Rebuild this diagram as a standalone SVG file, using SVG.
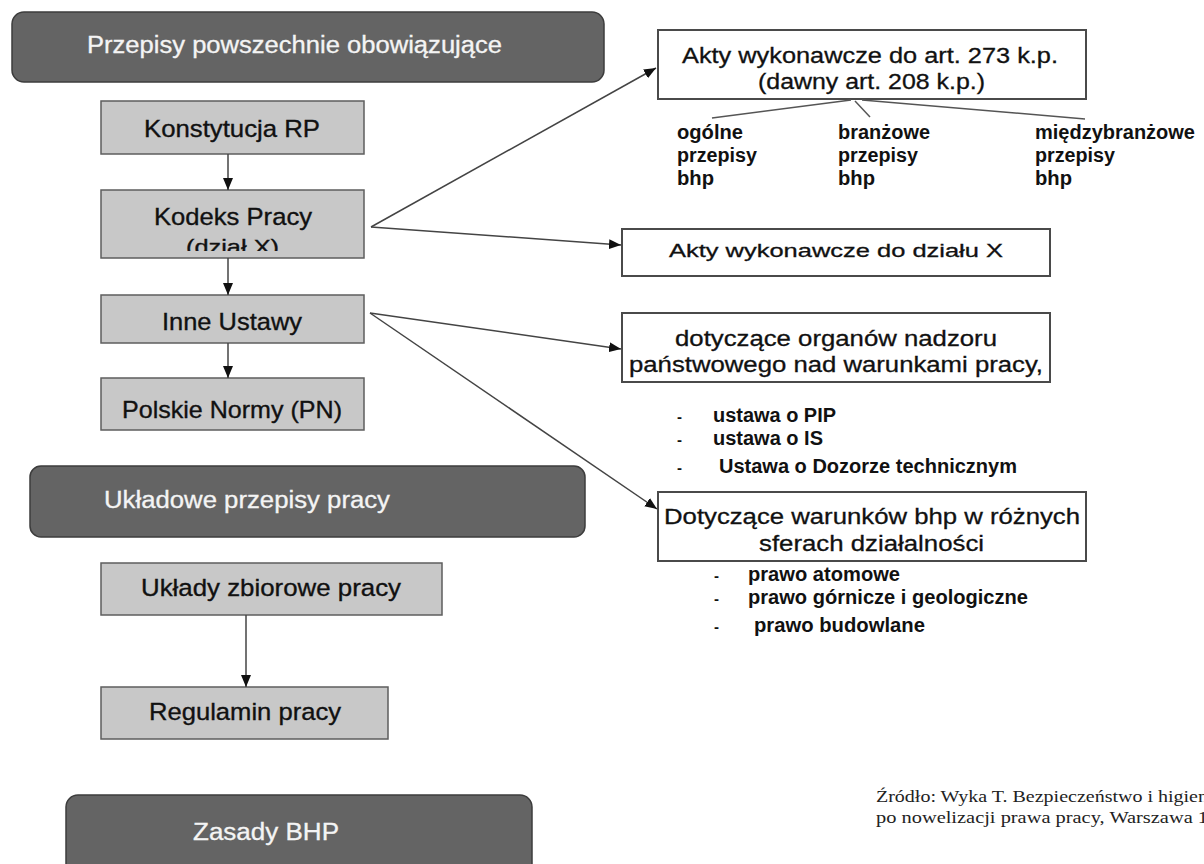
<svg xmlns="http://www.w3.org/2000/svg" width="1204" height="864" viewBox="0 0 1204 864">
<style>
.dark{fill:#646464;stroke:#3c3c3c;stroke-width:1.5}
.light{fill:#c8c8c8;stroke:#5e5e5e;stroke-width:1.5}
.white{fill:#ffffff;stroke:#4a4a4a;stroke-width:2}
.t{font-family:"Liberation Sans",Arial,sans-serif;font-size:24.5px;fill:#111;stroke:#111;stroke-width:0.35}
.tw{font-family:"Liberation Sans",Arial,sans-serif;font-size:23px;fill:#f4f4f4;stroke:#f4f4f4;stroke-width:0.3}
.tr{font-family:"Liberation Sans",Arial,sans-serif;font-size:22px;fill:#111;stroke:#111;stroke-width:0.3}
.tb{font-family:"Liberation Sans",Arial,sans-serif;font-size:19.5px;font-weight:bold;fill:#111}
.src{font-family:"Liberation Serif","Times New Roman",serif;font-size:16px;fill:#222}
.c{stroke:#444;stroke-width:1.5;fill:none}
.f{stroke:#555;stroke-width:1.5;fill:none}
</style>
<defs>
<marker id="ah" viewBox="0 0 12 10" refX="12" refY="5" markerWidth="12" markerHeight="10" markerUnits="userSpaceOnUse" orient="auto">
<path d="M0,0 L12,5 L0,10 z" fill="#111"/>
</marker>
<clipPath id="kclip"><rect x="100" y="190" width="265" height="61"/></clipPath>
</defs>
<rect width="1204" height="864" fill="#ffffff"/>

<g id="n-przepisy">
<rect class="dark" x="12" y="12" width="592" height="70" rx="12"/>
<text class="tw" x="87" y="53" textLength="415" lengthAdjust="spacingAndGlyphs">Przepisy powszechnie obowiązujące</text>
</g>
<g id="n-konstytucja">
<rect class="light" x="101" y="101" width="263" height="53"/>
<text class="t" x="144" y="137" textLength="176" lengthAdjust="spacingAndGlyphs">Konstytucja RP</text>
</g>
<g id="n-kodeks">
<rect class="light" x="101" y="190" width="263" height="68"/>
<text class="t" x="154" y="225" textLength="158" lengthAdjust="spacingAndGlyphs">Kodeks Pracy</text>
<text class="t" x="186" y="254" textLength="93" lengthAdjust="spacingAndGlyphs" clip-path="url(#kclip)" style="font-size:21px">(dział X)</text>
</g>
<g id="n-inne">
<rect class="light" x="101" y="295" width="263" height="48"/>
<text class="t" x="162" y="330" textLength="140" lengthAdjust="spacingAndGlyphs">Inne Ustawy</text>
</g>
<g id="n-pn">
<rect class="light" x="101" y="378" width="263" height="52"/>
<text class="t" x="122" y="418" textLength="220" lengthAdjust="spacingAndGlyphs">Polskie Normy (PN)</text>
</g>
<g id="n-ukladowe">
<rect class="dark" x="30" y="466" width="555" height="71" rx="11"/>
<text class="tw" x="104" y="508" textLength="286" lengthAdjust="spacingAndGlyphs">Układowe przepisy pracy</text>
</g>
<g id="n-uklady">
<rect class="light" x="101" y="563" width="341" height="52"/>
<text class="t" x="141" y="596" textLength="260" lengthAdjust="spacingAndGlyphs">Układy zbiorowe pracy</text>
</g>
<g id="n-regulamin">
<rect class="light" x="101" y="687" width="287" height="52"/>
<text class="t" x="149" y="720" textLength="192" lengthAdjust="spacingAndGlyphs">Regulamin pracy</text>
</g>
<g id="n-zasady">
<rect class="dark" x="66" y="795" width="466" height="85" rx="12"/>
<text class="tw" x="193" y="840" textLength="146" lengthAdjust="spacingAndGlyphs">Zasady BHP</text>
</g>

<g id="n-akty273">
<rect class="white" x="658" y="30" width="428" height="69"/>
<text class="tr" x="682" y="63" textLength="376" lengthAdjust="spacingAndGlyphs">Akty wykonawcze do art. 273 k.p.</text>
<text class="tr" x="758" y="89" textLength="227" lengthAdjust="spacingAndGlyphs">(dawny art. 208 k.p.)</text>
</g>
<g id="n-rodzaje">
<text class="tb" x="677" y="139" textLength="66" lengthAdjust="spacingAndGlyphs">ogólne</text>
<text class="tb" x="677" y="162" textLength="80" lengthAdjust="spacingAndGlyphs">przepisy</text>
<text class="tb" x="677" y="185" textLength="37" lengthAdjust="spacingAndGlyphs">bhp</text>
<text class="tb" x="838" y="139" textLength="92" lengthAdjust="spacingAndGlyphs">branżowe</text>
<text class="tb" x="838" y="162" textLength="80" lengthAdjust="spacingAndGlyphs">przepisy</text>
<text class="tb" x="838" y="185" textLength="37" lengthAdjust="spacingAndGlyphs">bhp</text>
<text class="tb" x="1035" y="139" textLength="160" lengthAdjust="spacingAndGlyphs">międzybranżowe</text>
<text class="tb" x="1035" y="162" textLength="80" lengthAdjust="spacingAndGlyphs">przepisy</text>
<text class="tb" x="1035" y="185" textLength="37" lengthAdjust="spacingAndGlyphs">bhp</text>
</g>
<g id="n-aktyX">
<rect class="white" x="622" y="229" width="428" height="47"/>
<text class="tr" x="669" y="257" textLength="334" lengthAdjust="spacingAndGlyphs" style="font-size:19px">Akty wykonawcze do działu X</text>
</g>
<g id="n-organy">
<rect class="white" x="622" y="313" width="428" height="69"/>
<text class="tr" x="675" y="346" textLength="322" lengthAdjust="spacingAndGlyphs">dotyczące organów nadzoru</text>
<text class="tr" x="629" y="372" textLength="414" lengthAdjust="spacingAndGlyphs">państwowego nad warunkami pracy,</text>
</g>
<g id="n-ustawy">
<text class="tb" x="677" y="422" style="font-size:15px">-</text>
<text class="tb" x="713" y="422" textLength="123" lengthAdjust="spacingAndGlyphs">ustawa o PIP</text>
<text class="tb" x="677" y="445" style="font-size:15px">-</text>
<text class="tb" x="713" y="445" textLength="110" lengthAdjust="spacingAndGlyphs">ustawa o IS</text>
<text class="tb" x="677" y="473" style="font-size:15px">-</text>
<text class="tb" x="719" y="473" textLength="298" lengthAdjust="spacingAndGlyphs">Ustawa o Dozorze technicznym</text>
</g>
<g id="n-warunki">
<rect class="white" x="658" y="492" width="428" height="69"/>
<text class="tr" x="664" y="524" textLength="416" lengthAdjust="spacingAndGlyphs">Dotyczące warunków bhp w różnych</text>
<text class="tr" x="759" y="551" textLength="225" lengthAdjust="spacingAndGlyphs">sferach działalności</text>
</g>
<g id="n-prawa">
<text class="tb" x="714" y="581" style="font-size:15px">-</text>
<text class="tb" x="748" y="581" textLength="152" lengthAdjust="spacingAndGlyphs">prawo atomowe</text>
<text class="tb" x="714" y="604" style="font-size:15px">-</text>
<text class="tb" x="748" y="604" textLength="280" lengthAdjust="spacingAndGlyphs">prawo górnicze i geologiczne</text>
<text class="tb" x="714" y="632" style="font-size:15px">-</text>
<text class="tb" x="754" y="632" textLength="171" lengthAdjust="spacingAndGlyphs">prawo budowlane</text>
</g>
<g id="n-zrodlo">
<text class="src" x="876" y="802" textLength="332" lengthAdjust="spacingAndGlyphs">Źródło: Wyka T. Bezpieczeństwo i higien</text>
<text class="src" x="876" y="823" textLength="332" lengthAdjust="spacingAndGlyphs">po nowelizacji prawa pracy, Warszawa 1</text>
</g>

<g id="connectors">
<line class="c" x1="228" y1="154" x2="228" y2="190" marker-end="url(#ah)"/>
<line class="c" x1="228" y1="258" x2="228" y2="295" marker-end="url(#ah)"/>
<line class="c" x1="228" y1="343" x2="228" y2="378" marker-end="url(#ah)"/>
<line class="c" x1="246" y1="615" x2="246" y2="687" marker-end="url(#ah)"/>
<line class="c" x1="371" y1="227" x2="656" y2="68" marker-end="url(#ah)"/>
<line class="c" x1="371" y1="227" x2="621" y2="245" marker-end="url(#ah)"/>
<line class="c" x1="370" y1="313" x2="621" y2="349" marker-end="url(#ah)"/>
<line class="c" x1="370" y1="313" x2="657" y2="509" marker-end="url(#ah)"/>
<line class="f" x1="851" y1="100" x2="712" y2="118"/>
<line class="f" x1="855" y1="101" x2="870" y2="117"/>
<line class="f" x1="862" y1="100" x2="1085" y2="119"/>
</g>
</svg>
